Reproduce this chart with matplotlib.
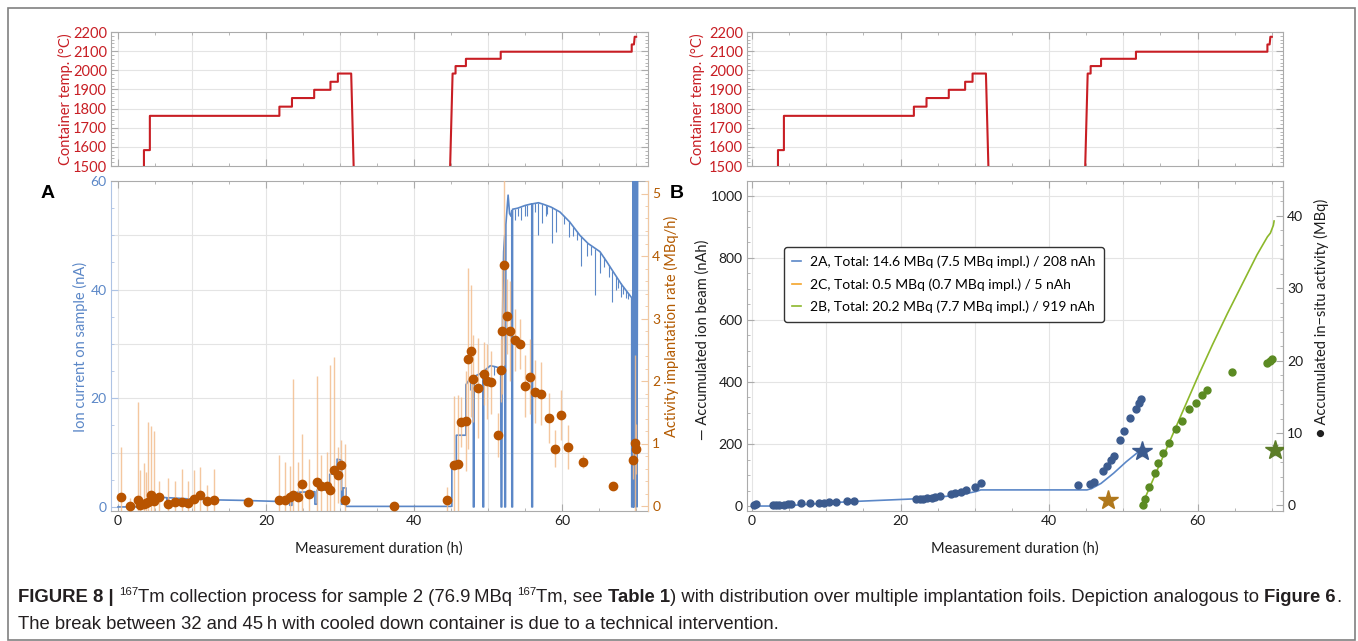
import matplotlib
matplotlib.use('Agg')
import matplotlib.pyplot as plt
import numpy as np
from matplotlib.ticker import MultipleLocator
from matplotlib.lines import Line2D
from matplotlib.patches import Rectangle

plt.rcParams['font.family'] = ['Lato', 'DejaVu Sans']

# ---------------- data ----------------
temp_t = [3.5, 3.5, 4.3, 4.3, 21.8, 21.8, 23.5, 23.5, 26.5, 26.5, 28.7, 28.7, 29.7, 29.7, 31.5,
          31.9, 44.8, 45.2, 45.6, 45.6, 47.0, 47.0, 51.7, 51.7, 69.4, 69.4, 69.7, 69.8, 70.0]
temp_C = [1400, 1583, 1583, 1762, 1762, 1810, 1810, 1855, 1855, 1898, 1898, 1940, 1940, 1983, 1983,
          1400, 1400, 1983, 1983, 2022, 2022, 2060, 2060, 2097, 2097, 2135, 2135, 2175, 2175]

ion_t = [0.0, 2.7, 2.7, 4.5, 4.5, 6.6, 6.6, 6.8, 6.8, 9.3,
         9.3, 9.5, 9.5, 13.0, 17.0, 21.8, 21.8, 23.2, 23.2, 23.5,
         23.5, 24.2, 24.2, 26.6, 26.6, 26.9, 26.9, 28.6, 28.6, 29.6,
         29.6, 30.2, 30.2, 30.4, 30.4, 30.8, 30.8, 45.1, 45.1, 45.7,
         45.7, 47.0, 47.0, 47.5, 48.0, 48.0, 48.1, 48.1, 49.3, 49.3,
         49.4, 49.4, 50.3, 51.0, 51.7, 51.75, 51.85, 51.9, 52.0, 52.1,
         52.25, 52.25, 52.35, 52.4, 52.7, 52.9, 53.1, 53.2, 53.2, 53.3,
         53.3, 54.0, 55.0, 55.9, 55.9, 56.0, 56.0, 56.8, 57.5, 58.5,
         59.7, 61.0, 62.4, 63.5, 65.1, 66.0, 66.9, 68.0, 69.4, 69.4,
         69.6, 69.6, 69.7, 69.8, 69.9, 70.0, 70.1, 70.2]
ion_nA = [0.0, 0.0, 0.4, 0.4, 1.9, 1.7, 0.2, 0.2, 1.7, 1.5,
          0.3, 0.3, 1.5, 1.3, 1.2, 1.0, 1.6, 1.6, 0.3, 0.3,
          1.8, 1.8, 2.7, 2.8, 0.5, 0.5, 3.1, 3.1, 6.0, 6.2,
          8.8, 8.6, 0.5, 0.5, 3.5, 3.5, 0.1, 0.1, 7.1, 7.1,
          13.2, 13.2, 22.5, 23.5, 24.0, 0.0, 0.0, 24.0, 24.8, 0.0,
          0.0, 25.0, 26.0, 25.8, 25.5, 0.0, 0.0, 30.0, 40.0, 47.0,
          50.0, 0.0, 0.0, 52.0, 57.4, 54.0, 53.5, 54.5, 0.0, 0.0,
          54.8, 55.0, 55.5, 55.8, 0.0, 0.0, 55.8, 56.0, 55.7, 55.2,
          54.3, 52.5, 50.0, 48.5, 47.0, 45.2, 43.3, 41.0, 38.5, 0.0,
          0.0, 60.0, 0.0, 60.0, 0.0, 62.0, 0.0, 62.0]

spike_t = [47.6, 50.8, 53.6, 54.1, 54.5, 55.0, 55.3, 56.3, 56.8, 57.3, 57.8, 58.0, 58.6, 59.2, 60.2,
           60.9, 61.5, 62.0, 62.5, 63.4, 63.9, 64.5, 65.1, 65.6, 66.3, 66.8, 67.3, 67.6, 67.9, 68.2,
           68.6, 68.9]
spike_depth = [2.0, 1.5, 2.0, 1.5, 2.5, 2.0, 2.0, 1.5, 6.0, 3.5, 2.0, 1.5, 6.5, 4.0, 1.5,
               3.0, 1.8, 1.5, 5.5, 2.5, 1.8, 8.5, 4.0, 1.8, 2.2, 5.8, 2.5, 1.5, 2.5, 1.5,
               1.5, 1.2]

act_t = [0.36, 1.6, 2.7, 3.0, 3.5, 3.8, 4.1, 4.5, 4.8, 5.6,
         6.7, 7.7, 8.7, 9.5, 10.3, 11.1, 12.0, 13.0, 17.6, 21.8,
         22.5, 23.2, 23.6, 24.3, 24.8, 25.8, 26.9, 27.4, 28.2, 28.6,
         29.2, 29.7, 30.1, 30.7, 37.3, 44.5, 45.4, 45.9, 46.4, 47.0,
         47.3, 47.7, 48.0, 48.7, 49.5, 49.9, 50.4, 51.3, 51.8, 51.9,
         52.2, 52.5, 53.0, 53.6, 54.3, 55.0, 55.6, 56.3, 57.1, 58.2,
         59.1, 59.9, 60.8, 62.8, 66.9, 69.6, 69.9, 70.0]
act_rate = [0.14, 0.00, 0.09, 0.02, 0.03, 0.05, 0.07, 0.18, 0.08, 0.14,
            0.03, 0.07, 0.07, 0.05, 0.12, 0.18, 0.08, 0.10, 0.07, 0.10,
            0.10, 0.14, 0.18, 0.15, 0.35, 0.19, 0.38, 0.32, 0.32, 0.26,
            0.58, 0.50, 0.65, 0.10, 0.00, 0.10, 0.66, 0.67, 1.34, 1.36,
            2.36, 2.48, 2.04, 1.89, 2.12, 2.00, 1.98, 1.14, 2.17, 2.80,
            3.85, 3.04, 2.80, 2.66, 2.60, 1.92, 2.07, 1.83, 1.80, 1.41,
            0.92, 1.45, 0.95, 0.71, 0.32, 0.73, 1.01, 0.92]
act_err = [0.80, 0.13, 1.57, 0.55, 0.66, 0.50, 1.28, 1.10, 1.12, 0.26,
           0.42, 0.33, 0.53, 0.35, 0.45, 0.45, 0.25, 0.50, 0.00, 0.71,
           0.60, 0.50, 1.85, 0.55, 0.80, 0.57, 1.70, 0.50, 0.55, 2.00,
           1.80, 0.45, 0.40, 0.90, 0.00, 0.20, 1.10, 1.10, 0.40, 0.80,
           1.45, 1.05, 0.70, 0.80, 0.50, 0.60, 0.50, 0.35, 0.50, 1.00,
           1.60, 0.60, 0.80, 0.50, 0.40, 0.50, 0.60, 0.50, 0.50, 0.40,
           0.30, 0.40, 0.35, 0.10, 0.00, 0.30, 1.40, 0.40]

beam2A_t = [0.0, 2.7, 4.5, 13.0, 21.8, 24.2, 26.9, 28.6, 30.2, 30.8, 45.1, 45.7, 47.0, 48.7, 50.4, 52.3, 52.6]
beam2A_nAh = [0, 0, 0.7, 14, 23, 27, 33, 39, 47, 52, 52, 56, 73, 106, 143, 180, 185]

beam2B_t = [52.3, 53.0, 54.0, 56.0, 58.0, 60.0, 62.0, 64.0, 66.0, 68.0, 69.4, 69.8, 70.2, 70.3]
beam2B_nAh = [0, 30, 85, 195, 305, 415, 520, 620, 715, 810, 868, 880, 905, 919]

act2A_t = [0.3, 0.6, 2.85, 3.3, 3.7, 4.3, 4.8, 5.2, 6.6, 7.8,
           9.0, 9.7, 10.4, 11.3, 12.8, 13.7, 22.1, 22.6, 23.0, 23.6,
           24.2, 24.7, 25.3, 26.8, 27.4, 28.2, 28.8, 30.0, 30.9, 43.9,
           45.5, 46.0, 47.2, 47.8, 48.4, 48.7, 49.5, 50.1, 50.9, 51.7,
           52.1, 52.4]
act2A_MBq = [0.07, 0.2, 0.07, 0.07, 0.1, 0.1, 0.15, 0.2, 0.3, 0.3,
             0.4, 0.4, 0.45, 0.5, 0.6, 0.65, 0.86, 0.9, 0.95, 1.0,
             1.1, 1.2, 1.35, 1.6, 1.75, 1.9, 2.2, 2.6, 3.1, 2.85,
             2.9, 3.2, 4.7, 5.4, 6.3, 6.8, 9.0, 10.3, 12.1, 13.3,
             14.2, 14.7]

act2B_t = [52.6, 52.9, 53.5, 54.2, 54.7, 55.4, 56.2, 57.1, 57.9, 58.9, 59.8, 60.6, 61.2, 64.6, 69.4, 69.7, 70.0]
act2B_MBq = [0.07, 0.86, 2.6, 4.5, 5.9, 7.2, 8.6, 10.5, 11.7, 13.3, 14.1, 15.2, 16.0, 18.4, 19.7, 20.0, 20.2]

impl_t = [52.5, 47.9, 70.4]
impl_MBq = [7.5, 0.7, 7.7]
impl_err = [0.6, 0.35, 0.7]

legend_labels = ["2A, Total: 14.6 MBq (7.5 MBq impl.) / 208 nAh",
                 "2C, Total: 0.5 MBq (0.7 MBq impl.) / 5 nAh",
                 "2B, Total: 20.2 MBq (7.7 MBq impl.) / 919 nAh"]

# ---------------- style ----------------
RED = '#c81e24'
BLUE = '#5b87c7'
ORANGE_TXT = '#b35a00'
ORANGE_DOT = '#b85400'
ORANGE_ERR = '#f3bd8e'
DARKBLUE = '#3c5b8e'
GREEN_LINE = '#8cb82b'
GREEN_DOT = '#5b8a22'
STAR_COLORS = ['#3c5b8e', '#b0781c', '#5c7d28']
LEG_COLORS = [BLUE, '#f4a42a', GREEN_LINE]
GRID = '#e4e4e4'
SPINE = '#ababab'
TXT = '#1e1e1e'

W, H, DPI = 1358, 641, 100
fig = plt.figure(figsize=(W / DPI, H / DPI), dpi=DPI)


def px_axes(l, t, r, b):
    return fig.add_axes([l / W, 1 - b / H, (r - l) / W, (b - t) / H])


def frame(ax, right=True, top=True, left=True):
    for s in ax.spines.values():
        s.set_color(SPINE)
        s.set_linewidth(0.8)
    ax.tick_params(which='both', direction='in', color=SPINE, top=top, right=right, left=left,
                   labelsize=10, pad=3)
    ax.tick_params(which='major', length=5, width=0.8)
    ax.tick_params(which='minor', length=2.5, width=0.6)


def vgrid(ax):
    for g in range(0, 71, 10):
        ax.axvline(g, color=GRID, lw=0.8, zorder=0)


XL_A = (-0.95, 71.6)
XL_B = (-0.67, 71.5)

# --- temperature panels ---
for (l, r, xl) in [(111, 648, XL_A), (747, 1283, XL_B)]:
    axT = px_axes(l, 32, r, 166)
    axT.set_xlim(xl)
    axT.set_ylim(1500, 2200)
    frame(axT)
    vgrid(axT)
    for g in range(1600, 2200, 100):
        axT.axhline(g, color=GRID, lw=0.8, zorder=0)
    axT.plot(temp_t, temp_C, color=RED, lw=1.5, zorder=3)
    axT.xaxis.set_major_locator(MultipleLocator(20))
    axT.xaxis.set_minor_locator(MultipleLocator(5))
    axT.yaxis.set_major_locator(MultipleLocator(100))
    axT.yaxis.set_minor_locator(MultipleLocator(20))
    axT.tick_params(labelbottom=False, labelcolor=RED, labelsize=10.5)
    for lab in axT.get_yticklabels():
        lab.set_color(RED)
    fig.text((l - 46 if l < 300 else l - 50) / W, 1 - 99 / H, "Container temp. (°C)",
             rotation=90, ha='center', va='center', color=RED, fontsize=10.5)

# --- panel A ---
axA = px_axes(111, 181, 648, 511)
axA.set_xlim(XL_A)
axA.set_ylim(-0.75, 60)
frame(axA, right=False)
vgrid(axA)
for g in range(10, 60, 10):
    axA.axhline(g, color=GRID, lw=0.8, zorder=0)
axA.spines['left'].set_color('#aec3e4')
axA.xaxis.set_major_locator(MultipleLocator(20))
axA.xaxis.set_minor_locator(MultipleLocator(5))
axA.yaxis.set_major_locator(MultipleLocator(20))
axA.yaxis.set_minor_locator(MultipleLocator(5))
axA.tick_params(axis='y', which='both', colors='#aec3e4', labelcolor=BLUE)
axA.tick_params(axis='x', labelcolor=TXT)
axA.plot(ion_t, ion_nA, color=BLUE, lw=1.2, zorder=3)
base = np.interp(spike_t, ion_t, ion_nA)
axA.vlines(spike_t, base - np.array(spike_depth), base, color=BLUE, lw=0.8, zorder=3)

axA2 = axA.twinx()
axA2.set_ylim(-0.08, 5.2)
for s in axA2.spines.values():
    s.set_visible(False)
axA2.spines['right'].set_visible(True)
axA2.spines['right'].set_color('#f0c8a2')
axA2.spines['right'].set_linewidth(0.8)
axA2.yaxis.set_major_locator(MultipleLocator(1))
axA2.yaxis.set_minor_locator(MultipleLocator(0.2))
axA2.tick_params(axis='y', which='both', direction='in', colors='#f0c8a2', labelcolor=ORANGE_TXT,
                 labelsize=10, pad=3)
axA2.tick_params(which='major', length=5)
axA2.tick_params(which='minor', length=2.5)
axA2.errorbar(act_t, act_rate, yerr=act_err, fmt='none', ecolor=ORANGE_ERR, elinewidth=1.0,
              alpha=0.85, zorder=2)
axA2.plot(act_t, act_rate, 'o', color=ORANGE_DOT, ms=6, zorder=4)

fig.text(80 / W, 1 - 347 / H, "Ion current on sample (nA)", rotation=90, ha='center', va='center',
         color=BLUE, fontsize=10.5)
fig.text(671 / W, 1 - 326 / H, "Activity implantation rate (MBq/h)", rotation=90, ha='center',
         va='center', color=ORANGE_TXT, fontsize=10.5)
fig.text(379 / W, 1 - 549 / H, "Measurement duration (h)", ha='center', va='center', color=TXT,
         fontsize=10.5)

# --- panel B ---
axB = px_axes(747, 181, 1283, 511)
axB.set_xlim(XL_B)
axB.set_ylim(-16, 1048)
frame(axB, right=False)
vgrid(axB)
for g in range(200, 1001, 200):
    axB.axhline(g, color=GRID, lw=0.8, zorder=0)
axB.xaxis.set_major_locator(MultipleLocator(20))
axB.xaxis.set_minor_locator(MultipleLocator(5))
axB.yaxis.set_major_locator(MultipleLocator(200))
axB.yaxis.set_minor_locator(MultipleLocator(50))
axB.tick_params(labelcolor=TXT)
axB.plot(beam2A_t, beam2A_nAh, color=BLUE, lw=1.2, zorder=3)
axB.plot(beam2B_t, beam2B_nAh, color=GREEN_LINE, lw=1.2, zorder=3)

axB2 = axB.twinx()
axB2.set_ylim(-0.76, 44.8)
for s in axB2.spines.values():
    s.set_visible(False)
axB2.spines['right'].set_visible(True)
axB2.spines['right'].set_color(SPINE)
axB2.spines['right'].set_linewidth(0.8)
axB2.yaxis.set_major_locator(MultipleLocator(10))
axB2.yaxis.set_minor_locator(MultipleLocator(2))
axB2.tick_params(axis='y', which='both', direction='in', color=SPINE, labelcolor=TXT,
                 labelsize=10, pad=3)
axB2.tick_params(which='major', length=5)
axB2.tick_params(which='minor', length=2.5)
axB2.plot(act2A_t, act2A_MBq, 'o', color=DARKBLUE, ms=5, zorder=4)
axB2.plot(act2B_t, act2B_MBq, 'o', color=GREEN_DOT, ms=5, zorder=4)
for i in range(len(impl_t)):
    axB2.errorbar(impl_t[i], impl_MBq[i], yerr=impl_err[i], fmt='*', ms=15, color=STAR_COLORS[i],
                  ecolor='#a0a0a0', elinewidth=0.8, capsize=2, zorder=5)

handles = [Line2D([], [], color=c, lw=1.2) for c in LEG_COLORS]
leg = axB2.legend(handles, legend_labels, loc='upper left', bbox_to_anchor=(0.056, 0.82),
                  frameon=True, fancybox=True, edgecolor='#333333', facecolor='white', framealpha=1,
                  fontsize=10, handlelength=0.6, handletextpad=0.7, labelspacing=0.72,
                  borderpad=0.6)
leg.get_frame().set_linewidth(1.0)
leg.set_zorder(10)

fig.text(703 / W, 1 - 340 / H, "— Accumulated ion beam (nAh)", rotation=90, ha='center',
         va='center', color=TXT, fontsize=10.5)
fig.text(1321 / W, 1 - 318 / H, "● Accumulated in−situ activity (MBq)", rotation=90, ha='center',
         va='center', color=TXT, fontsize=10.5)
fig.text(1015 / W, 1 - 549 / H, "Measurement duration (h)", ha='center', va='center', color=TXT,
         fontsize=10.5)

# panel letters
fig.text(48 / W, 1 - 193 / H, "A", ha='center', va='center', fontsize=14, fontweight='bold',
         family=['Liberation Sans', 'DejaVu Sans'], color='black')
fig.text(677 / W, 1 - 193 / H, "B", ha='center', va='center', fontsize=14, fontweight='bold',
         family=['Liberation Sans', 'DejaVu Sans'], color='black')

# outer frame
fig.patches.append(Rectangle((8 / W, 1 / H), (1355 - 8) / W, (640 - 8) / H, transform=fig.transFigure,
                             fill=False, edgecolor='#808080', lw=1.2))

# ---------------- caption ----------------
CAP_FAM = ['Liberation Sans Narrow', 'Liberation Sans', 'DejaVu Sans']
CAP_COL = '#231f20'
renderer = fig.canvas.get_renderer()


def run_width(txt, size, weight):
    t1 = fig.text(0, 0, '|' + txt + '|', fontsize=size, fontweight=weight, family=CAP_FAM)
    t2 = fig.text(0, 0, '||', fontsize=size, fontweight=weight, family=CAP_FAM)
    w = t1.get_window_extent(renderer).width - t2.get_window_extent(renderer).width
    t1.remove()
    t2.remove()
    return w


def runs_width(runs, size):
    return sum(run_width(t, size * (0.62 if sup else 1.0), wt) for t, wt, sup in runs)


def draw_runs(runs, x0, ybase, size):
    x = x0
    for t, wt, sup in runs:
        fs = size * (0.62 if sup else 1.0)
        yy = ybase - (size * 0.40 * DPI / 72 if sup else 0)
        fig.text(x / W, 1 - yy / H, t, fontsize=fs, fontweight=wt, family=CAP_FAM, color=CAP_COL,
                 ha='left', va='baseline')
        x += run_width(t, fs, wt)


line1 = [("FIGURE 8 | ", 'bold', False), ("167", 'normal', True),
         ("Tm collection process for sample 2 (76.9\u2009MBq ", 'normal', False), ("167", 'normal', True),
         ("Tm, see ", 'normal', False), ("Table 1", 'bold', False),
         (") with distribution over multiple implantation foils. Depiction analogous to ", 'normal', False),
         ("Figure 6", 'bold', False), (".", 'normal', False)]
line2 = [("The break between 32 and 45\u2009h with cooled down container is due to a technical intervention.",
          'normal', False)]

s0 = 10.0
w0 = runs_width(line1, s0)
cap_size = s0 * 1325.0 / w0
draw_runs(line1, 18, 602, cap_size)
draw_runs(line2, 18, 629, cap_size)

fig.savefig('out.png', dpi=DPI)
